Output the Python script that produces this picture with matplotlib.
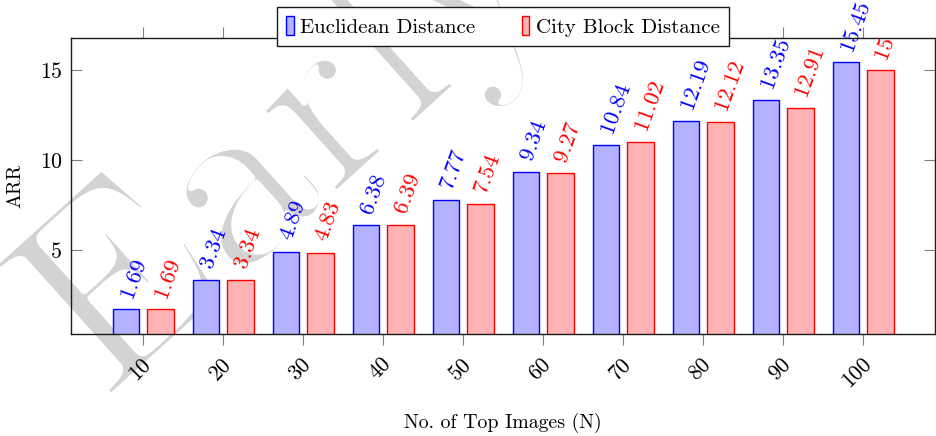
import matplotlib
matplotlib.use("Agg")
import matplotlib.pyplot as plt
import matplotlib.patheffects as pe
from matplotlib.transforms import ScaledTranslation
import numpy as np

# Average retrieval rate for the top-N retrieved images
top_n = [10, 20, 30, 40, 50, 60, 70, 80, 90, 100]
euclidean = [1.69, 3.34, 4.89, 6.38, 7.77, 9.34, 10.84, 12.19, 13.35, 15.45]
city_block = [1.69, 3.34, 4.83, 6.39, 7.54, 9.27, 11.02, 12.12, 12.91, 15]
y_ticks = [5, 10, 15]
series_names = ["Euclidean Distance", "City Block Distance"]

plt.rcParams["font.family"] = "cmr10"
plt.rcParams["mathtext.fontset"] = "cm"
plt.rcParams["axes.unicode_minus"] = False

W, H, DPI = 936, 436, 100
fig = plt.figure(figsize=(W / DPI, H / DPI), dpi=DPI)

# light grey watermark behind everything (edges trimmed with a white stroke
# to give a lighter letter weight)
fig.text(105 / W, 1 - 402 / H, "Early", rotation=42, rotation_mode="anchor",
         ha="left", va="baseline", fontsize=186, color="#d3d3d3", zorder=-1,
         path_effects=[pe.Normal(), pe.Stroke(linewidth=4.5, foreground="white")])

ax = fig.add_axes([71 / W, 1 - 334 / H, 864 / W, 296.5 / H])
ax.patch.set_alpha(0)

x = np.array(top_n, dtype=float)
bar_w = 3.3
blue_fill, blue_edge = "#b3b3ff", "#0000ff"
red_fill, red_edge = "#ffb3b3", "#ff0000"

ax.bar(x - 2.1, euclidean, width=bar_w, bottom=0, color=blue_fill,
       edgecolor=blue_edge, linewidth=1.0, label=series_names[0], zorder=2)
ax.bar(x + 2.2, city_block, width=bar_w, bottom=0, color=red_fill,
       edgecolor=red_edge, linewidth=1.0, label=series_names[1], zorder=2)

label_fs = 16.5
for xi, v in zip(x - 2.1, euclidean):
    ax.annotate(f"{v:g}", xy=(xi, v), xytext=(0, 9), textcoords="offset points",
                rotation=70, rotation_mode="anchor", ha="left", va="center",
                color=blue_edge, fontsize=label_fs, annotation_clip=False, zorder=6)
for xi, v in zip(x + 2.2, city_block):
    ax.annotate(f"{v:g}", xy=(xi, v), xytext=(0, 9), textcoords="offset points",
                rotation=70, rotation_mode="anchor", ha="left", va="center",
                color=red_edge, fontsize=label_fs, annotation_clip=False, zorder=6)

ax.set_xlim(1, 109)
ax.set_ylim(0.314, 16.826)

ax.set_xticks(top_n)
ax.set_xticklabels([str(t) for t in top_n])
ax.set_yticks(y_ticks)
ax.set_yticklabels([str(t) for t in y_ticks])

tick_col = "#808080"
ax.tick_params(axis="x", which="major", direction="out", length=7.9, width=0.8,
               color=tick_col, top=True, bottom=True, labelsize=15.8, pad=11.5)
ax.tick_params(axis="y", which="major", direction="in", length=7.9, width=0.8,
               color=tick_col, left=True, right=True, labelsize=15.8, pad=6.5)

shift = ScaledTranslation(5 / DPI, 0, fig.dpi_scale_trans)
for lab in ax.get_xticklabels():
    lab.set_rotation(45)
    lab.set_rotation_mode("anchor")
    lab.set_ha("right")
    lab.set_va("center")
    lab.set_transform(lab.get_transform() + shift)

for sp in ax.spines.values():
    sp.set_color("#1a1a1a")
    sp.set_linewidth(1.0)
    sp.set_zorder(5)

ax.set_ylabel("ARR", fontsize=14.3)
ax.yaxis.set_label_coords((15 - 71) / 864, 0.5)
ax.yaxis.label.set_va("center")
ax.set_xlabel("No. of Top Images (N)", fontsize=14.3)
ax.xaxis.set_label_coords(0.5, (334 - 423) / 296.5)
ax.xaxis.label.set_va("center")

leg = ax.legend(ncol=2, loc="upper center", bbox_to_anchor=(0.5, (334 - 7) / 296.5),
                borderaxespad=0, fontsize=15, frameon=True, fancybox=False,
                handlelength=0.38, handleheight=1.0, handletextpad=0.3,
                columnspacing=2.2, borderpad=0.45, framealpha=1)
leg.get_frame().set_edgecolor("#1a1a1a")
leg.get_frame().set_linewidth(1.0)
leg.set_zorder(7)

fig.savefig("out.png", dpi=DPI)
